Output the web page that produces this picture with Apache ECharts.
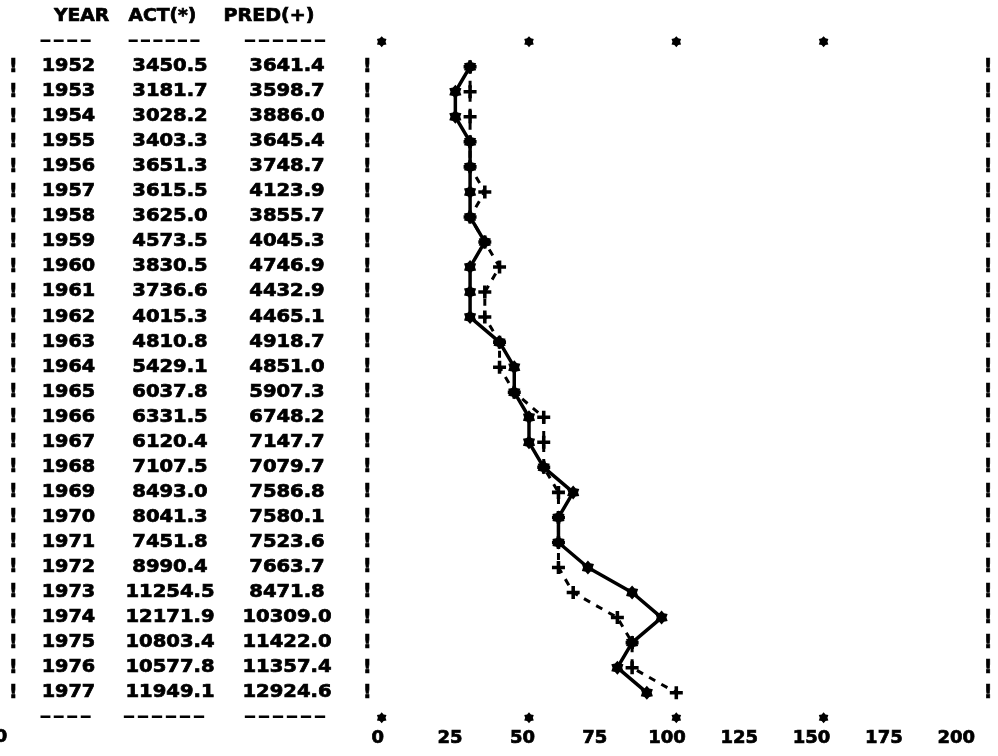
<!DOCTYPE html>
<html><head><meta charset="utf-8">
<script src="https://cdn.jsdelivr.net/npm/echarts@6/dist/echarts.min.js"></script>
<style>html,body{margin:0;padding:0;background:#fff}#c{width:998px;height:756px}</style>
</head><body><div id="c"></div>
<script>
// ---- data ----
const years = ['1952','1953','1954','1955','1956','1957','1958','1959','1960','1961','1962','1963','1964','1965','1966','1967','1968','1969','1970','1971','1972','1973','1974','1975','1976','1977'];
const actValues = [3450.5,3181.7,3028.2,3403.3,3651.3,3615.5,3625.0,4573.5,3830.5,3736.6,4015.3,4810.8,5429.1,6037.8,6331.5,6120.4,7107.5,8493.0,8041.3,7451.8,8990.4,11254.5,12171.9,10803.4,10577.8,11949.1];
const predValues = [3641.4,3598.7,3886.0,3645.4,3748.7,4123.9,3855.7,4045.3,4746.9,4432.9,4465.1,4918.7,4851.0,5907.3,6748.2,7147.7,7079.7,7586.8,7580.1,7523.6,7663.7,8471.8,10309.0,11422.0,11357.4,12924.6];
// plotted positions (axis units 0..200)
const actPlot = [30,25,25,30,30,30,30,35,30,30,30,40,45,45,50,50,55,65,60,60,70,85,95,85,80,90];
const predPlot = [30,30,30,30,30,35,30,35,40,35,35,40,40,45,55,55,55,60,60,60,60,65,80,85,85,100];
const headers = ['YEAR','ACT(*)','PRED(+)'];
const starTicks = [0,50,100,150];
const axisMin = 0, axisMax = 200, axisStep = 25;

// ---- layout helpers ----
const cats = ['hdr','top'].concat(years, ['bot','lbl']);
const FONT = 'bold 17px "DejaVu Sans"';
const STAR = 'path://M10,0 L13.5,3.94 L18.66,5 L17,10 L18.66,15 L13.5,16.06 L10,20 L6.5,16.06 L1.34,15 L3,10 L1.34,5 L6.5,3.94 Z';
const PLUS = 'path://M4,0 H7 V4 H11 V7 H7 V11 H4 V7 H0 V4 H4 Z';

const chart = echarts.init(document.getElementById('c'), null, {renderer:'canvas'});

function txt(str, x, y, align, sx, font, lw){
  return {type:'text', x:x, y:y, scaleX:sx, silent:true,
    style:{text:str, font:font||FONT, fill:'#000', stroke:'#000', lineWidth:(lw==null?0.7:lw),
      align:align, verticalAlign:'middle'}};
}

const option = {
  animation:false,
  backgroundColor:'#fff',
  grid:[
    {left:381.7, right:27.1, top:4.1, bottom:0.7},
    {left:377.8, right:41.8, top:690, bottom:30.2}
  ],
  xAxis:[
    {gridIndex:0, type:'value', min:axisMin, max:axisMax, show:false},
    {gridIndex:1, type:'value', min:axisMin, max:axisMax, interval:axisStep,
      axisLine:{show:false}, axisTick:{show:false}, splitLine:{show:false},
      axisLabel:{margin:4, color:'#000', fontSize:18, fontWeight:'bold', fontFamily:'DejaVu Sans',
        textBorderColor:'#000', textBorderWidth:0.7}}
  ],
  yAxis:[
    {gridIndex:0, type:'category', data:cats, inverse:true, show:false},
    {gridIndex:1, type:'value', show:false}
  ],
  series:[
    {type:'line', name:'PRED', xAxisIndex:0, yAxisIndex:0,
      data: years.map((y,i)=>[predPlot[i], y]),
      symbol:PLUS, symbolSize:13, symbolKeepAspect:true,
      itemStyle:{color:'#000', opacity:1},
      lineStyle:{color:'#000', width:3, type:[7,7]}, z:2},
    {type:'line', name:'ACT', xAxisIndex:0, yAxisIndex:0,
      data: years.map((y,i)=>[actPlot[i], y]),
      symbol:STAR, symbolSize:14, symbolKeepAspect:true,
      itemStyle:{color:'#000', opacity:1},
      lineStyle:{color:'#000', width:3.5}, z:3},
    {type:'scatter', xAxisIndex:0, yAxisIndex:0,
      data: ['top','bot'].flatMap(r => starTicks.map(v => [v, r])),
      symbol:STAR, symbolSize:11, symbolKeepAspect:true,
      itemStyle:{color:'#000', opacity:1}, silent:true},
    {type:'custom', xAxisIndex:0, yAxisIndex:0, silent:true, clip:false, z:5,
      encode:{x:0, y:1},
      data: cats.map(c => [0, c]),
      renderItem: function(params, api){
        const i = params.dataIndex;
        const cat = cats[i];
        const y = api.coord([api.value(0), api.value(1)])[1];
        const ch = [];
        if (cat === 'hdr') {
          ch.push(txt(headers[0], 81.5, y, 'center', 1.1));
          ch.push(txt(headers[1], 162.5, y, 'center', 1.1));
          ch.push(txt(headers[2], 269, y, 'center', 1.12));
        } else if (cat === 'top' || cat === 'bot') {
          ch.push(txt('----', 65.5, y, 'center', 1.9, null, 0));
          ch.push(txt('------', 164, y, 'center', cat==='top'?1.75:1.98, null, 0));
          ch.push(txt('------', 285, y, 'center', 1.98, null, 0));
        } else if (cat === 'lbl') {
          ch.push(txt('0', 1, y-5, 'center', 1, 'bold 18px "DejaVu Sans"'));
        } else {
          const k = years.indexOf(cat);
          const bang = 'bold 19px "DejaVu Sans"';
          ch.push(txt('!', 13.3, y, 'center', 1, bang));
          ch.push(txt(cat, 41.7, y, 'left', 1.13));
          ch.push(txt(actValues[k].toFixed(1), 170, y, 'center', 1.15));
          ch.push(txt(predValues[k].toFixed(1), 287, y, 'center', 1.15));
          ch.push(txt('!', 367.3, y, 'center', 1, bang));
          ch.push(txt('!', 988, y, 'center', 1, bang));
        }
        return {type:'group', children:ch};
      }}
  ]
};
chart.setOption(option);
</script></body></html>
